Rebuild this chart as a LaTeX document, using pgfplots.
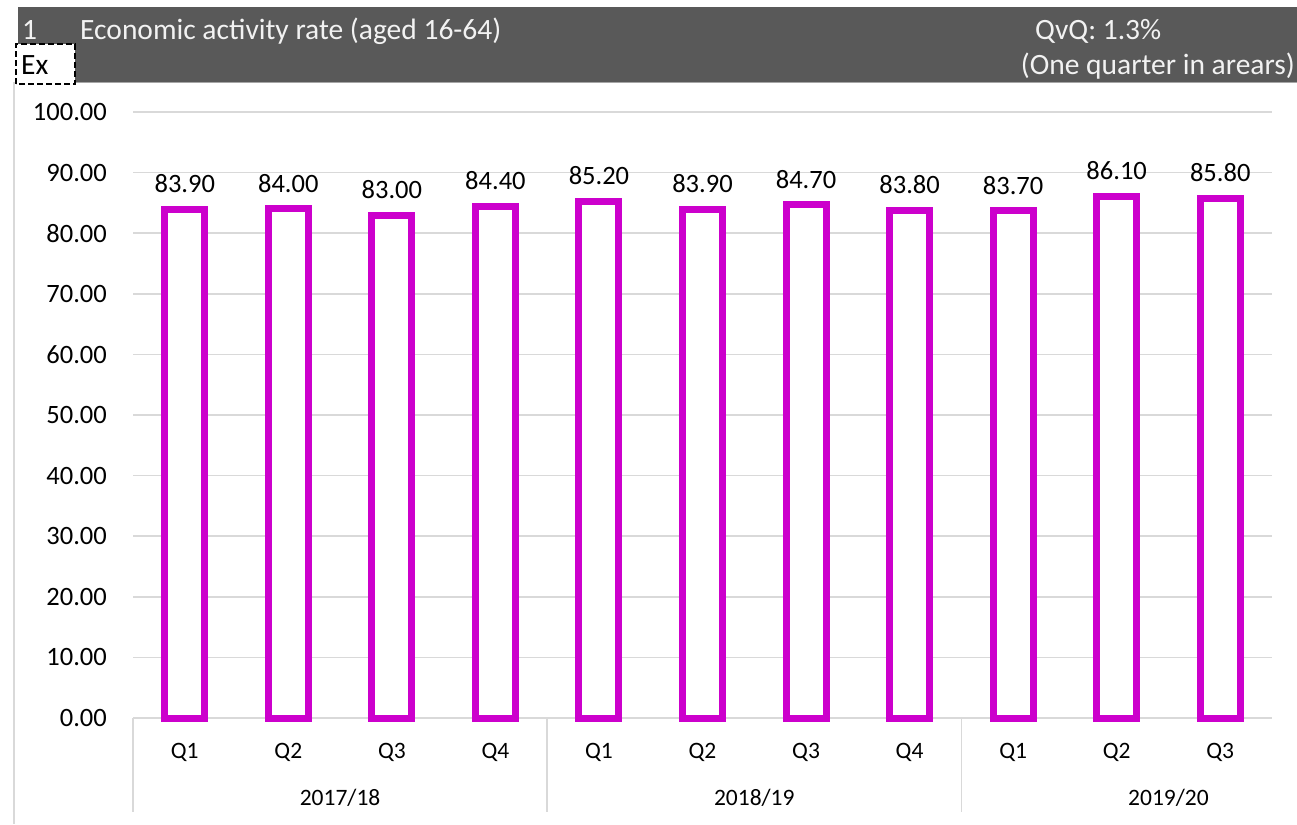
\documentclass[border=0pt]{standalone}
\usepackage{pgfplots}
\pgfplotsset{compat=1.18}
\usepackage{fontspec}
\setmainfont{Carlito}
\definecolor{hdr}{HTML}{595959}
\definecolor{mag}{HTML}{CC00CC}
\definecolor{grd}{HTML}{D9D9D9}
\definecolor{hdrtxt}{HTML}{F2F2F2}
\begin{document}
\begin{tikzpicture}[x=1pt,y=1pt]
\useasboundingbox (0,0) rectangle (1297,824);
% header band
\fill[hdr] (18,742) rectangle (1297,817);
\draw[color=black!35, line width=1.5pt] (18,741.5) -- (1297,741.5);
\draw[grd, line width=1.5pt] (14,742) -- (14,0);
\node[anchor=base west, inner sep=0pt, text=hdrtxt, font=\fontsize{29.5}{33}\selectfont] at (22,784) {1};
\node[anchor=base west, inner sep=0pt, text=hdrtxt, font=\fontsize{29.5}{33}\selectfont] at (80,784) {Economic activity rate (aged 16-64)};
\node[anchor=base west, inner sep=0pt, text=hdrtxt, font=\fontsize{29.5}{33}\selectfont] at (1035,784) {QvQ: 1.3\%};
\node[anchor=base east, inner sep=0pt, text=hdrtxt, font=\fontsize{29.5}{33}\selectfont] at (1295,749) {(One quarter in arears)};
% Ex box
\fill[white] (16,740) rectangle (75,780);
\draw[black, dash pattern=on 6pt off 3pt, line width=2.5pt] (16,740) rectangle (75,780);
\node[anchor=base west, inner sep=0pt, font=\fontsize{29.5}{33}\selectfont] at (21,749) {Ex};
\begin{axis}[
  at={(133pt,106pt)}, anchor=south west,
  scale only axis, width=1139pt, height=606pt,
  ymin=0, ymax=100, xmin=-0.5, xmax=10.5,
  ytick={0,10,...,100},
  /pgf/number format/assume math mode=true,
  yticklabel style={/pgf/number format/fixed, /pgf/number format/fixed zerofill,
    /pgf/number format/precision=2, font=\fontsize{26.5}{30}\selectfont,
    anchor=east, inner sep=0pt, xshift=-26pt},
  xtick={0,...,10},
  xticklabels={Q1,Q2,Q3,Q4,Q1,Q2,Q3,Q4,Q1,Q2,Q3},
  xticklabel style={font=\fontsize{23.5}{27}\selectfont, anchor=base, inner sep=0pt, yshift=-40pt},
  major tick length=0pt,
  axis line style={draw=none},
  ymajorgrids, grid style={grd, line width=1.5pt},
  clip=false,
  ybar, bar width=40pt,
  nodes near coords={\pgfmathprintnumber[fixed,fixed zerofill,precision=2]{\pgfplotspointmeta}},
  every node near coord/.append style={anchor=south, inner sep=0pt, yshift=13pt,
    font=\fontsize{26.5}{30}\selectfont, text=black},
]
\addplot[draw=mag, fill=white, line width=7pt] coordinates {
(0,83.9) (1,84.0) (2,83.0) (3,84.4) (4,85.2) (5,83.9) (6,84.7) (7,83.8) (8,83.7) (9,86.1) (10,85.8)};
\draw[grd, line width=1.5pt] (axis cs:-0.5,0) -- ([yshift=-94pt]axis cs:-0.5,0);
\draw[grd, line width=1.5pt] (axis cs:3.5,0) -- ([yshift=-94pt]axis cs:3.5,0);
\draw[grd, line width=1.5pt] (axis cs:7.5,0) -- ([yshift=-94pt]axis cs:7.5,0);
\node[anchor=base, inner sep=0pt, font=\fontsize{23.5}{27}\selectfont] at (axis cs:1.5,0) [yshift=-87pt] {2017/18};
\node[anchor=base, inner sep=0pt, font=\fontsize{23.5}{27}\selectfont] at (axis cs:5.5,0) [yshift=-87pt] {2018/19};
\node[anchor=base, inner sep=0pt, font=\fontsize{23.5}{27}\selectfont] at (axis cs:9.5,0) [yshift=-87pt] {2019/20};
\end{axis}
\end{tikzpicture}
\end{document}
